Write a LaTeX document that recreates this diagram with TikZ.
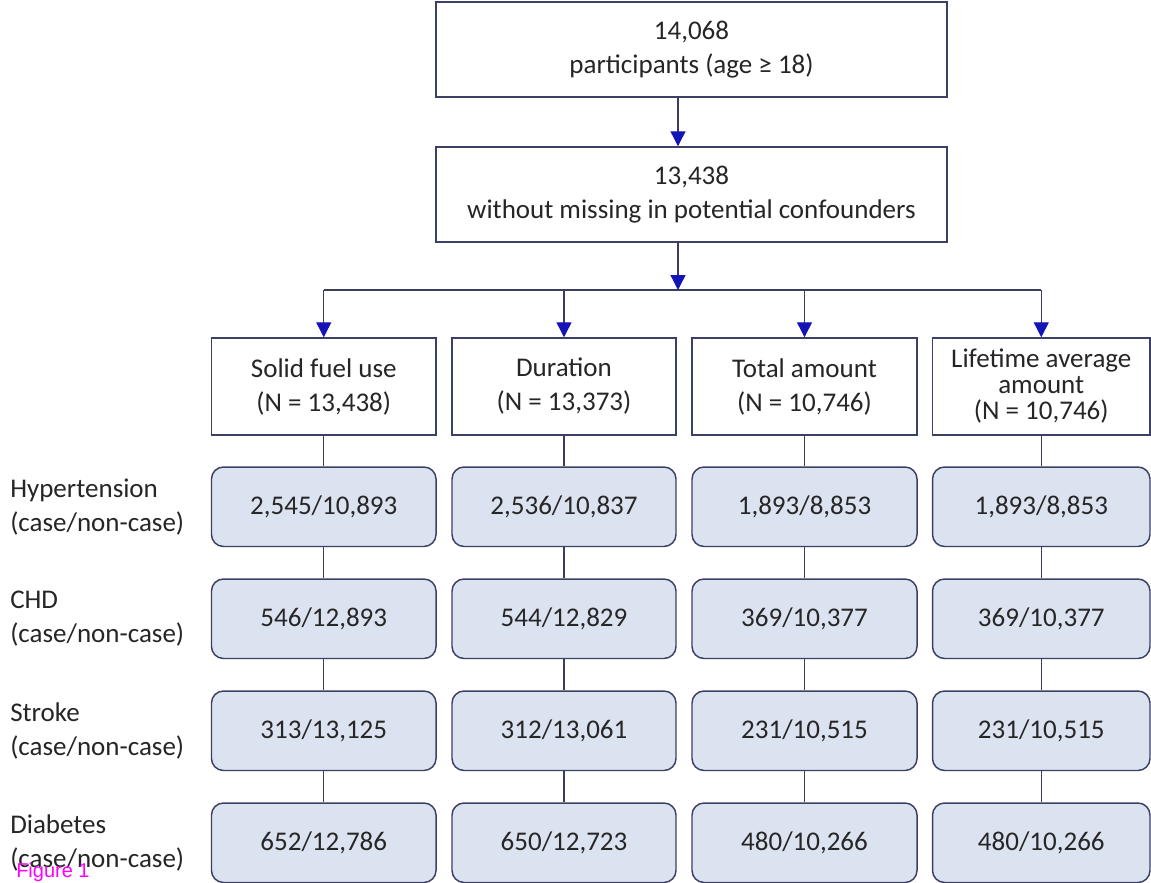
\documentclass[tikz,border=0pt]{standalone}
\usepackage{fontspec}
\setmainfont{Carlito}
\newfontfamily\arialfont{Liberation Sans}
\usetikzlibrary{arrows.meta}
\definecolor{txt}{HTML}{262626}
\definecolor{edge}{HTML}{3C4064}
\definecolor{lineC}{HTML}{3A3D5C}
\definecolor{headC}{HTML}{1414B8}
\definecolor{fillC}{HTML}{DCE3F0}
\definecolor{figC}{HTML}{FF00FF}
\tikzset{
  every node/.style={text=txt, font=\fontsize{20.25pt}{25.5pt}\selectfont},
  plainbox/.style={draw=edge, line width=1.1pt, fill=white, align=center, inner sep=0pt},
  topbox/.style={plainbox, minimum width=383.25pt, minimum height=71.25pt},
  catbox/.style={plainbox, minimum height=72.75pt},
  databox/.style={draw=edge, line width=1.1pt, fill=fillC, rounded corners=9pt, align=center, inner sep=0pt, minimum height=59.6pt},
  lbl/.style={anchor=west, align=left, inner sep=0pt},
  conn/.style={draw=lineC, line width=1pt},
  arr/.style={conn, -{Triangle[width=11.25pt,length=11.25pt,color=headC]}},
}
\begin{document}
\begin{tikzpicture}[x=0.75pt,y=-0.75pt]
\useasboundingbox (0,0) rectangle (1151,882);
\fill[white] (0,0) rectangle (1151,882);
\clip (0,0) rectangle (1151,882);
% top boxes
\node[topbox] (b1) at (691.5,49.5) {14,068\\participants (age ≥ 18)};
\node[topbox] (b2) at (691.5,194.5) {13,438\\without missing in potential confounders};
\coordinate (sp) at (678,0);
\coordinate (j) at (678,290);
% category boxes
\node[catbox, minimum width=168.4pt] (c1) at (323.75,386.5) {Solid fuel use\\(N = 13,438)};
\node[catbox, minimum width=168pt] (c2) at (564,386.5) {Duration\\(N = 13,373)};
\node[catbox, minimum width=168.75pt] (c3) at (804.5,386.5) {Total amount\\(N = 10,746)};
\node[catbox, minimum width=163.1pt, font=\fontsize{20.25pt}{19.5pt}\selectfont] (c4) at (1041.25,386.5) {Lifetime average\\amount\\(N = 10,746)};
% data rows
\foreach \r/\y/\a/\b/\c/\d in {
  1/506.75/{2,545/10,893}/{2,536/10,837}/{1,893/8,853}/{1,893/8,853},
  2/618.75/{546/12,893}/{544/12,829}/{369/10,377}/{369/10,377},
  3/730.75/{313/13,125}/{312/13,061}/{231/10,515}/{231/10,515},
  4/842.75/{652/12,786}/{650/12,723}/{480/10,266}/{480/10,266}}{
  \node[databox, minimum width=168.4pt] (r\r c1) at (323.75,\y) {\a};
  \node[databox, minimum width=168pt] (r\r c2) at (564,\y) {\b};
  \node[databox, minimum width=168.75pt] (r\r c3) at (804.5,\y) {\c};
  \node[databox, minimum width=163.1pt] (r\r c4) at (1041.25,\y) {\d};
}
% left labels
\node[lbl] (l1) at (10,506.75) {Hypertension\\(case/non-case)};
\node[lbl] (l2) at (10,618.75) {CHD\\(case/non-case)};
\node[lbl] (l3) at (10,730.75) {Stroke\\(case/non-case)};
\node[lbl] (l4) at (10,842.75) {Diabetes\\(case/non-case)};
% connectors
\draw[arr] (b1.south -| sp) -- (b2.north -| sp);
\draw[conn] (j -| c1) -- (j -| c4);
\draw[arr] (b2.south -| sp) -- (j);
\foreach \i in {1,2,3,4}{
  \draw[arr] (j -| c\i) -- (c\i.north);
  \draw[conn] (c\i.south) -- (r1c\i.north);
  \draw[conn] (r1c\i.south) -- (r2c\i.north);
  \draw[conn] (r2c\i.south) -- (r3c\i.north);
  \draw[conn] (r3c\i.south) -- (r4c\i.north);
}
\node[anchor=base west, inner sep=0pt, text=figC, font=\arialfont\fontsize{15pt}{18pt}\selectfont] (fig) at (16,877) {Figure 1};
\end{tikzpicture}
\end{document}
